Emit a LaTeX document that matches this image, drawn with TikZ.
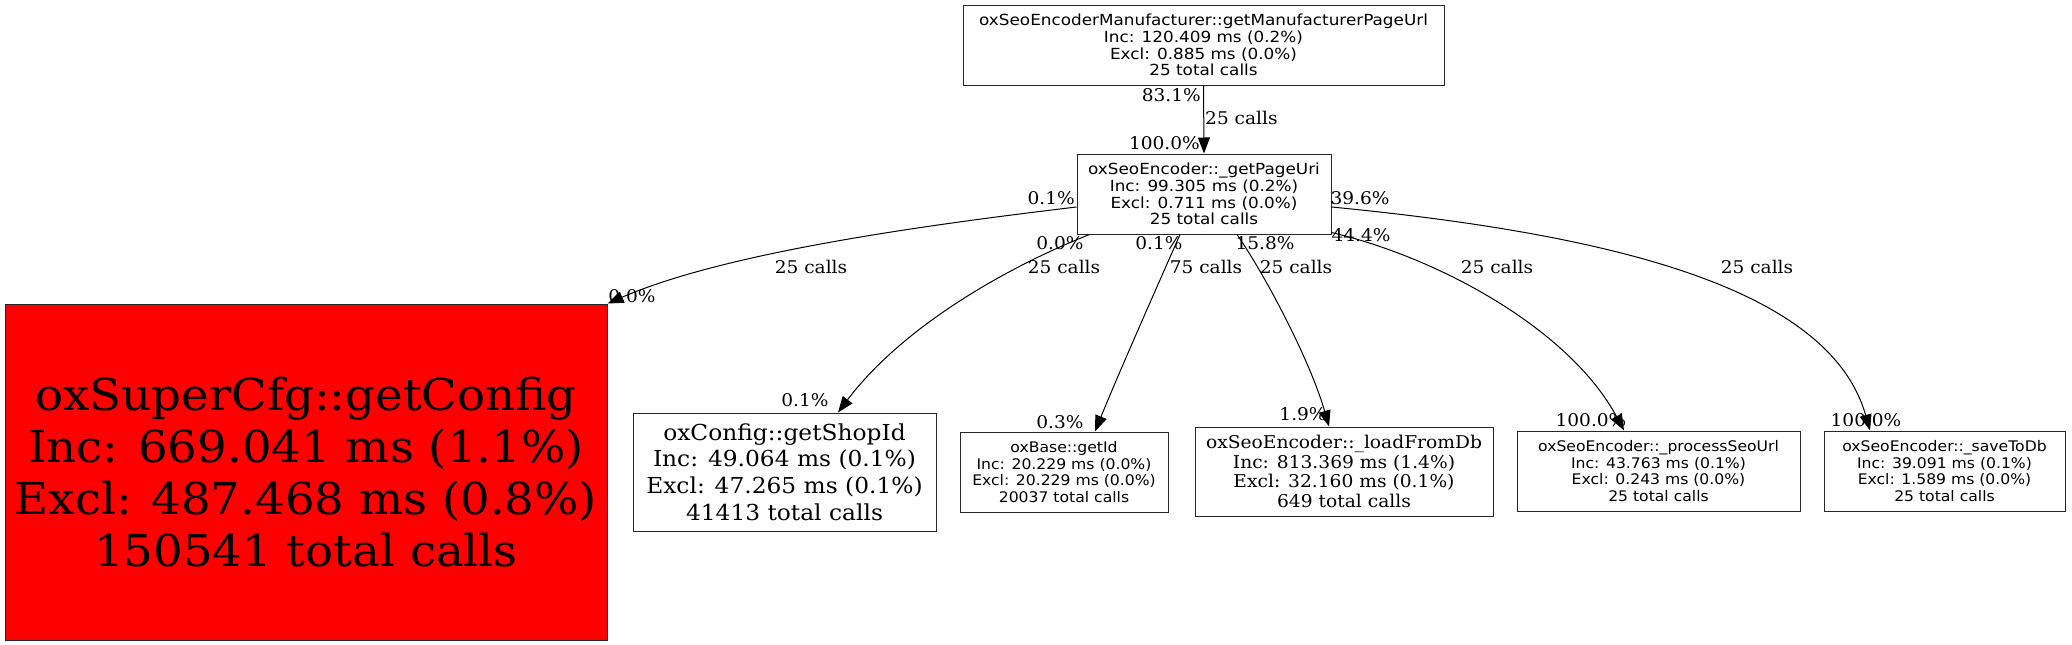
\documentclass[tikz,border=0pt]{standalone}
\usepackage{fontspec}
\setmainfont{DejaVu Serif}
\newfontfamily\sansx[FakeStretch=1.1]{DejaVu Sans}
\newfontfamily\sansy[FakeStretch=1.07]{DejaVu Sans}
\newfontfamily\serifx[FakeStretch=1.06]{DejaVu Serif}
\usetikzlibrary{arrows.meta}
\begin{document}
\begin{tikzpicture}[x=1pt,y=-1pt,
  box/.style={draw=black!85,line width=1pt,rectangle,inner sep=0pt,align=center},
  edge/.style={line width=1pt,-{Triangle[length=16pt,width=12pt]}},
  lbl/.style={inner sep=0pt,font=\serifx\fontsize{17.5}{20}\selectfont},
  sansbig/.style={font=\sansx\fontsize{15.3}{16.8}\selectfont},
  sanssmall/.style={font=\sansy\fontsize{14.6}{16.8}\selectfont},
]
\useasboundingbox (0,0) rectangle (2072,645);

% nodes
\node[box,sansbig,minimum width=481pt,minimum height=80pt] (top) at (1203.5,45)
  {oxSeoEncoderManufacturer::getManufacturerPageUrl\\Inc: 120.409 ms (0.2\%)\\Excl: 0.885 ms (0.0\%)\\25 total calls};
\node[box,sansbig,minimum width=254pt,minimum height=80pt] (page) at (1204,194)
  {oxSeoEncoder::\_getPageUri\\Inc: 99.305 ms (0.2\%)\\Excl: 0.711 ms (0.0\%)\\25 total calls};
\node[box,fill=red,font=\serifx\fontsize{44}{52}\selectfont,minimum width=602pt,minimum height=336pt] (config) at (306,472)
  {oxSuperCfg::getConfig\\Inc: 669.041 ms (1.1\%)\\Excl: 487.468 ms (0.8\%)\\150541 total calls};
\node[box,font=\serifx\fontsize{22}{26.7}\selectfont,minimum width=303pt,minimum height=118pt] (shop) at (784.5,472)
  {oxConfig::getShopId\\Inc: 49.064 ms (0.1\%)\\Excl: 47.265 ms (0.1\%)\\41413 total calls};
\node[box,sanssmall,minimum width=208pt,minimum height=80pt] (getid) at (1064,472)
  {oxBase::getId\\Inc: 20.229 ms (0.0\%)\\Excl: 20.229 ms (0.0\%)\\20037 total calls};
\node[box,font=\serifx\fontsize{17.6}{19.7}\selectfont,minimum width=298pt,minimum height=89pt] (load) at (1344,471.5)
  {oxSeoEncoder::\_loadFromDb\\Inc: 813.369 ms (1.4\%)\\Excl: 32.160 ms (0.1\%)\\649 total calls};
\node[box,sanssmall,minimum width=283pt,minimum height=80pt] (proc) at (1658.5,471)
  {oxSeoEncoder::\_processSeoUrl\\Inc: 43.763 ms (0.1\%)\\Excl: 0.243 ms (0.0\%)\\25 total calls};
\node[box,sanssmall,minimum width=241pt,minimum height=80pt] (save) at (1944.5,471)
  {oxSeoEncoder::\_saveToDb\\Inc: 39.091 ms (0.1\%)\\Excl: 1.589 ms (0.0\%)\\25 total calls};

% edges
\draw[edge] (top.south) -- (page.north);
\draw[edge] ([yshift=-13pt]page.west) .. controls (900,228) and (720,255) .. (config.north east);
\draw[edge] ([xshift=13pt]page.south west) .. controls (1000,270) and (900,330) .. ([xshift=53.5pt]shop.north);
\draw[edge] ([xshift=-24pt]page.south) .. controls (1160,280) and (1120,370) .. ([xshift=31pt]getid.north);
\draw[edge] ([xshift=33pt]page.south) .. controls (1265,275) and (1310,360) .. ([xshift=-15pt]load.north);
\draw[edge] ([yshift=2pt]page.south east) .. controls (1440,258) and (1570,330) .. ([xshift=-34.5pt]proc.north);
\draw[edge] ([yshift=-13pt]page.east) .. controls (1620,235) and (1830,290) .. ([xshift=-74.5pt]save.north);

% edge labels
\node[lbl,anchor=east] (l1) at (1201,95) {83.1\%};
\node[lbl,anchor=west] (l2) at (1205,118) {25 calls};
\node[lbl,anchor=east] (l3) at (1200,143) {100.0\%};
\node[lbl,anchor=east] (l4) at (1075,198) {0.1\%};
\node[lbl] (l5) at (1360,198) {39.6\%};
\node[lbl] (l6) at (1361,235) {44.4\%};
\node[lbl] (l7) at (1060,243) {0.0\%};
\node[lbl] (l8) at (1159,243) {0.1\%};
\node[lbl] (l9) at (1265,243) {15.8\%};
\node[lbl] (c1) at (811,267) {25 calls};
\node[lbl] (c2) at (1064,267) {25 calls};
\node[lbl] (c3) at (1206,267) {75 calls};
\node[lbl] (c4) at (1296,267) {25 calls};
\node[lbl] (c5) at (1497,267) {25 calls};
\node[lbl] (c6) at (1757,267) {25 calls};
\node[lbl] (h1) at (632,296) {0.0\%};
\node[lbl] (h2) at (805,400) {0.1\%};
\node[lbl] (h3) at (1060,422) {0.3\%};
\node[lbl] (h4) at (1303,414) {1.9\%};
\node[lbl] (h5) at (1591,420) {100.0\%};
\node[lbl] (h6) at (1866,420) {100.0\%};
\end{tikzpicture}
\end{document}
